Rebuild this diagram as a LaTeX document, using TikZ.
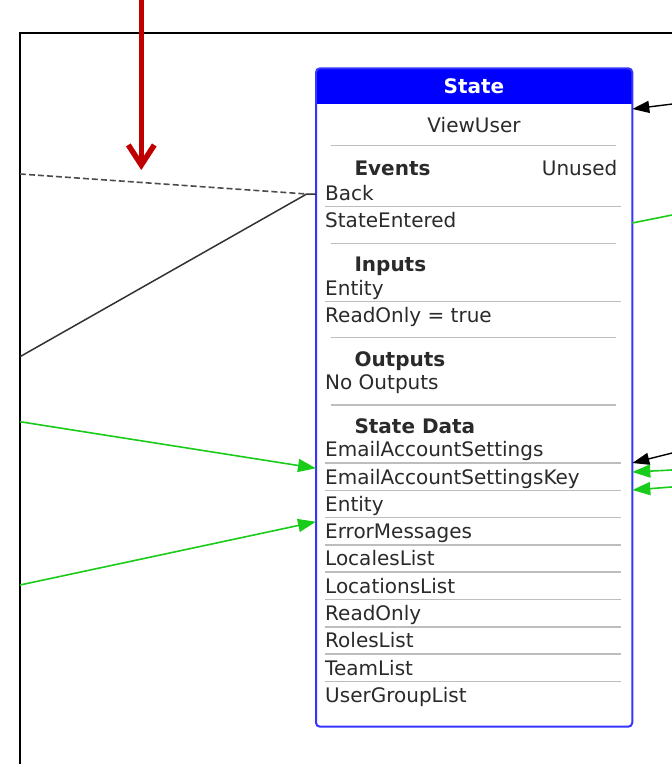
\documentclass[tikz,border=0pt]{standalone}
\usepackage{fontspec}
\setmainfont{DejaVu Sans}
\usetikzlibrary{arrows.meta}
\definecolor{txt}{HTML}{2A2A2A}
\definecolor{hdr}{HTML}{0000FF}
\definecolor{boxline}{HTML}{3535FF}
\definecolor{rule}{HTML}{BDBDBD}
\definecolor{flow}{HTML}{1ACC1A}
\definecolor{pointer}{HTML}{C00000}
\tikzset{
  lbl/.style={inner sep=0pt, anchor=base west, text=txt, font=\fontsize{20}{24}\selectfont},
  head/.style={lbl, font=\fontsize{20}{24}\selectfont\bfseries},
  sep/.style={draw=rule, line width=1.5pt},
  rowline/.style={draw=rule, line width=1.5pt},
  link/.style={draw=black!80, line width=1.5pt},
  dlink/.style={draw=black!70, line width=1.6pt, dash pattern=on 6pt off 3pt},
  glink/.style={draw=flow, line width=1.6pt, -{Triangle[length=18pt,width=13pt]}},
  blink/.style={draw=black, line width=1.4pt, -{Triangle[length=17pt,width=12pt]}},
}
\begin{document}
\begin{tikzpicture}[x=1pt,y=-1pt]
\useasboundingbox (0,0) rectangle (672,764);
\clip (0,0) rectangle (672,764);

% outer frame
\draw[line width=2pt] (20,800) |- (700,33.3);

% state box
\node[draw=none, minimum width=316.3pt, minimum height=658.4pt, inner sep=0pt] (state) at (474.15,397.5) {};
\begin{scope}
  \clip[rounded corners=4pt] (316,68.3) rectangle (632.3,726.7);
  \fill[white] (316,68.3) rectangle (632.3,726.7);
  \fill[hdr] (316,68.3) rectangle (632.3,104.3);
\end{scope}
\draw[boxline, line width=2pt, rounded corners=4pt] (316,68.3) rectangle (632.3,726.7);

\node[head, anchor=base, text=white] (title) at (474,93.3) {State};
\node[lbl, anchor=base] (name) at (474,132.7) {ViewUser};
\draw[sep] (330.7,145.7) -- (615.7,145.7);

\node[head] (events) at (354.3,175) {Events};
\node[lbl, anchor=base east] (unused) at (617.5,175) {Unused};
\node[lbl] (evBack) at (325,200.7) {Back};
\draw[rowline] (325,206.7) -- (621,206.7);
\node[lbl] (evEntered) at (325,227.7) {StateEntered};
\draw[sep] (330.7,243.3) -- (615.7,243.3);

\node[head] (inputs) at (354.3,271.7) {Inputs};
\node[lbl] (inEntity) at (325,295.7) {Entity};
\draw[rowline] (325,301.7) -- (621,301.7);
\node[lbl] (inReadOnly) at (325,322.7) {ReadOnly = true};
\draw[sep] (330.7,337.7) -- (615.7,337.7);

\node[head] (outputs) at (354.3,366) {Outputs};
\node[lbl] (outNone) at (325,389.3) {No Outputs};
\draw[sep] (330.7,405) -- (615.7,405);

\node[head] (data) at (354.3,433.3) {State Data};
\foreach \t [count=\k from 0] in {EmailAccountSettings,EmailAccountSettingsKey,Entity,ErrorMessages,LocalesList,LocationsList,ReadOnly,RolesList,TeamList,UserGroupList}{
  \node[lbl] (d\k) at (325,456.7+27.3*\k) {\t};
}
\foreach \k in {0,...,8}{
  \draw[rowline] (325,463+27.3*\k) -- (621,463+27.3*\k);
}

% connector end points
\coordinate (dashSrc) at (20,174);
\coordinate (solidSrc) at (20,356.7);
\coordinate (backJoin) at (306.7,194);
\coordinate (backPort) at (316,194);
\coordinate (gSrcA) at (20,421.7);
\coordinate (gDstA) at (316,468.3);
\coordinate (gSrcB) at (20,585);
\coordinate (gDstB) at (316,521.7);

\coordinate (rSrcTop) at (690,101.8);
\coordinate (rDstTop) at (632.3,109);
\coordinate (rEntered) at (632.3,223);
\coordinate (rOutEntered) at (690,211.4);
\coordinate (rSrcB) at (690,448.5);
\coordinate (rDstB) at (632.3,463);
\coordinate (rSrcG1) at (690,469.1);
\coordinate (rDstG1) at (632.3,472);
\coordinate (rSrcG2) at (690,485.6);
\coordinate (rDstG2) at (632.3,490);

\coordinate (ptrTop) at (141.3,0);
\coordinate (ptrTip) at (141.3,170);

% connectors
\draw[dlink] (dashSrc) -- (backJoin);
\draw[link] (solidSrc) -- (backJoin) -- (backPort);
\draw[glink] (gSrcA) -- (gDstA);
\draw[glink] (gSrcB) -- (gDstB);

\draw[blink] (rSrcTop) -- (rDstTop);
\draw[draw=flow, line width=1.6pt] (rEntered) -- (rOutEntered);
\draw[blink] (rSrcB) -- (rDstB);
\draw[glink] (rSrcG1) -- (rDstG1);
\draw[glink] (rSrcG2) -- (rDstG2);

% pointer arrow
\draw[pointer, line width=5.5pt, -{Straight Barb[length=20pt,width=26pt]}] (ptrTop) -- (ptrTip);
\end{tikzpicture}
\end{document}
